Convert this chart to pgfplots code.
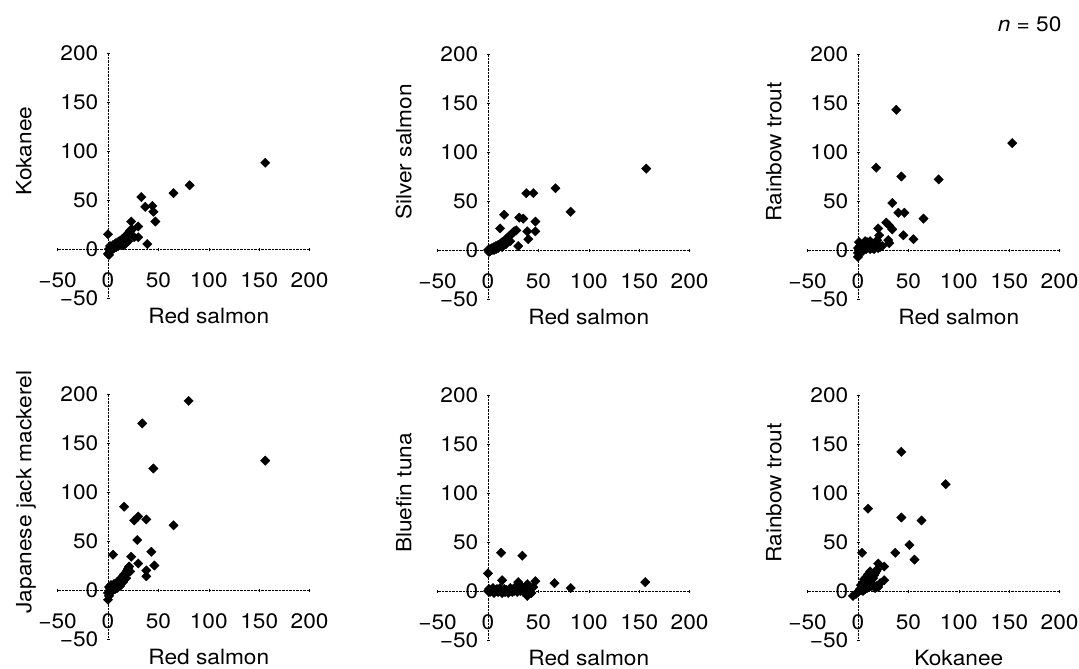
\documentclass[border=0pt]{standalone}
\usepackage{fontspec}
\setmainfont{TeX Gyre Heros}[FakeStretch=1.08]
\usepackage{pgfplots}
\pgfplotsset{compat=1.18}

\newcommand\lbl{\fontsize{21}{25}\selectfont}

\pgfplotsset{
  fish/.style={
    scale only axis, width=252pt, height=245pt,
    xmin=-50, xmax=200, ymin=-50, ymax=200,
    axis lines=middle,
    axis line style={-, densely dotted, thin},
    xtick={-50,0,50,100,150,200}, ytick={-50,0,50,100,150,200},
    xticklabels={−50,0,50,100,150,200},
    yticklabels={−50,0,50,100,150,200},
    hide obscured x ticks=false, hide obscured y ticks=false,
    tick style={densely dotted, thin, black},
    major tick length=3pt,
    every tick label/.append style={font=\lbl},
    xticklabel style={anchor=north, inner sep=0pt, yshift=-22pt},
    yticklabel style={anchor=east, inner sep=0pt, xshift=-8pt},
    every axis x label/.style={at={(axis cs:100,-50)}, anchor=base, yshift=-26pt, font=\lbl},
    every axis y label/.style={at={(axis cs:-76,100)}, anchor=base, rotate=90, font=\lbl},
    clip=false,
    anchor=south west,
  },
  pts/.style={only marks, mark=square*, mark size=3.3pt, black,
    mark options={rotate=45, solid, fill=black}},
}

\begin{document}
\begin{tikzpicture}[font=\lbl]
\useasboundingbox (0,0) rectangle (1079pt,669pt);

% Kokanee vs red salmon
\begin{axis}[fish, at={(57.6pt,371pt)}, xlabel={Red salmon}, ylabel={Kokanee}]
\addplot[pts] table {
x y
156 88
81 65
65 57
33 53
37 43
44 44
45 38
47 28
23 28
30 23
26 12
30 12
39 5
0 15
0 -5
1 -6
2 -2
1 0
3 1
2 3
4 2
5 4
6 3
7 5
8 6
9 5
10 7
11 8
12 6
13 9
14 10
15 8
16 11
17 12
18 14
19 13
20 16
21 17
22 19
24 20
5 0
3 -1
6 1
8 2
10 3
12 4
14 5
16 4
18 6
20 8
};
\end{axis}

% Silver salmon vs red salmon
\begin{axis}[fish, at={(437.6pt,370pt)}, xlabel={Red salmon}, ylabel={Silver salmon}]
\addplot[pts] table {
x y
157 83
67 63
38 58
45 58
82 39
16 36
31 33
35 32
47 29
12 22
47 19
39 19
40 11
30 4
0 0
1 -2
2 1
3 0
4 2
5 1
6 3
7 2
8 4
9 3
10 5
11 4
12 6
13 7
14 8
15 7
16 9
17 10
18 11
19 12
20 13
21 14
22 15
23 16
24 17
25 18
26 19
28 20
2 -1
4 0
6 0
8 1
10 2
14 3
18 6
22 9
};
\end{axis}

% Rainbow trout vs red salmon
\begin{axis}[fish, at={(807.6pt,370pt)}, xlabel={Red salmon}, ylabel={Rainbow trout}]
\addplot[pts] table {
x y
38 143
153 109
18 84
43 75
80 72
34 48
40 38
46 38
65 32
28 28
31 25
34 21
45 15
55 11
30 10
31 7
20 22
21 15
19 10
0 -7
0 -3
1 0
2 2
3 5
1 8
2 4
4 0
5 3
6 6
7 2
8 1
9 4
10 7
11 3
12 1
13 5
14 2
15 4
16 1
17 3
18 5
20 2
22 3
24 4
3 -2
5 -1
7 9
9 8
12 9
0 2
};
\end{axis}

% Japanese jack mackerel vs red salmon
\begin{axis}[fish, at={(57.6pt,30pt)}, xlabel={Red salmon}, ylabel={Japanese jack mackerel}]
\addplot[pts] table {
x y
80 193
34 170
156 132
45 124
16 85
26 71
30 75
38 72
65 66
29 51
5 36
43 39
23 34
30 27
46 25
38 20
38 14
0 -10
1 -6
0 -3
2 0
1 3
3 5
2 2
4 1
5 4
6 6
7 3
8 5
9 8
10 7
11 10
12 9
13 12
14 11
15 14
16 16
17 15
18 18
19 20
20 22
21 24
22 19
3 -2
5 0
7 1
9 2
12 4
15 8
18 12
};
\end{axis}

% Bluefin tuna vs red salmon
\begin{axis}[fish, at={(437.6pt,29pt)}, xlabel={Red salmon}, ylabel={Bluefin tuna}]
\addplot[pts] table {
x y
13 39
34 36
0 18
156 9
66 8
82 3
47 10
14 11
30 9
39 7
39 -5
0 0
1 2
2 -1
3 1
4 0
5 3
6 -2
7 1
8 0
9 2
10 -1
11 0
12 3
13 1
14 -2
15 0
16 2
17 -1
18 1
19 0
20 -2
21 1
22 3
23 0
24 -1
25 2
26 0
27 4
28 1
29 -1
31 2
32 0
33 5
35 -1
36 3
37 1
41 2
43 -2
45 4
};
\end{axis}

% Rainbow trout vs kokanee
\begin{axis}[fish, at={(807.6pt,29pt)}, xlabel={Kokanee}, ylabel={Rainbow trout}]
\addplot[pts] table {
x y
43 142
87 109
10 84
43 75
63 72
51 47
37 39
4 39
56 32
20 28
26 25
26 11
22 8
18 5
-5 -5
-2 -3
0 -1
1 0
2 2
3 1
4 4
5 3
6 6
7 5
8 8
9 7
10 10
11 9
12 12
13 11
14 14
15 13
16 16
17 18
18 20
19 22
5 0
7 2
9 3
11 4
13 5
15 6
17 3
20 4
3 6
5 9
6 12
8 14
10 17
12 20
};
\end{axis}

\node[anchor=base east] at (1065pt,637pt) {{\itshape n} = 50};
\end{tikzpicture}
\end{document}
